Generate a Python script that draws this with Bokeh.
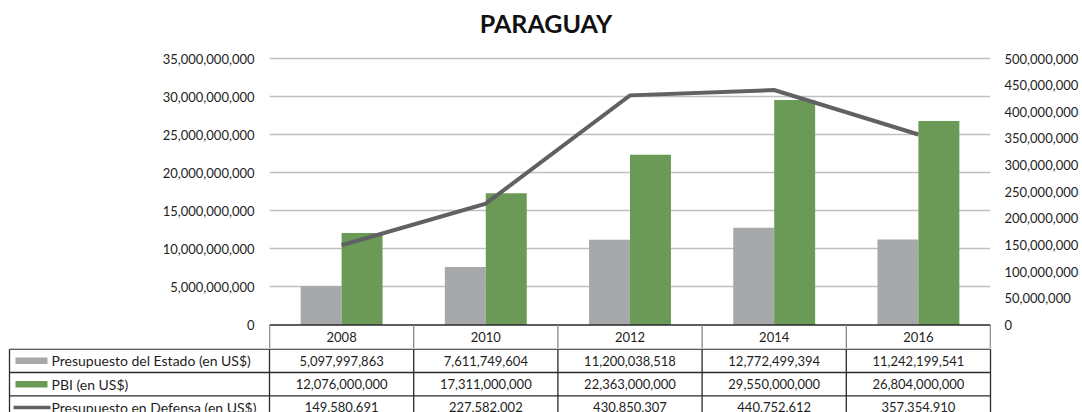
from bokeh.plotting import figure
from bokeh.models import (ColumnDataSource, Range1d, LinearAxis,
                          FixedTicker, NumeralTickFormatter)
from bokeh.layouts import column
from bokeh.embed import file_html
from bokeh.resources import INLINE
from bokeh.core.properties import value

# ---------------- data ----------------
title = "PARAGUAY"
years = ["2008", "2010", "2012", "2014", "2016"]
presupuesto_estado = [5097997863, 7611749604, 11200038518, 12772499394, 11242199541]
pbi = [12076000000, 17311000000, 22363000000, 29550000000, 26804000000]
presupuesto_defensa = [149580691, 227582002, 430850307, 440752612, 357354910]
series_names = ["Presupuesto del Estado (en US$)", " PBI (en US$)",
                "Presupuesto en Defensa (en US$)"]
left_ticks = [0, 5e9, 10e9, 15e9, 20e9, 25e9, 30e9, 35e9]
right_ticks = [0, 50e6, 100e6, 150e6, 200e6, 250e6, 300e6, 350e6, 400e6, 450e6, 500e6]

GREY = "#A6A8A9"
GREEN = "#6A9A55"
LINE = "#606163"
FONT = "Lato"
TXT = "#1e1e1e"
BORDER = "#2a2a2a"

W = 1082
n = len(years)
xc = [i + 0.5 for i in range(n)]
bw = 0.284
src = ColumnDataSource(dict(x=xc, xg=[c - bw / 2 for c in xc],
                            xp=[c + bw / 2 for c in xc], year=years,
                            estado=presupuesto_estado, pbi=pbi,
                            defensa=presupuesto_defensa))

# ---------------- chart (title + plot + header row of the table) ----------------
plot_left, plot_right = 269, 990
col_px = (plot_right - plot_left) / n
top_px, zero_px, bot_px = 58, 324.5, 348
left_max, right_max = 35e9, 500e6
lpp = left_max / (zero_px - top_px)      # left units per pixel
rpp = right_max / (zero_px - top_px)     # right units per pixel
p = figure(width=W, height=bot_px, x_range=Range1d(0, n),
           y_range=Range1d(-(bot_px - zero_px) * lpp, left_max + top_px * lpp),
           output_backend="svg", toolbar_location=None,
           min_border_left=plot_left, min_border_right=W - plot_right,
           min_border_top=0, min_border_bottom=0, frame_align=False)
p.extra_y_ranges = {"def": Range1d(-(bot_px - zero_px) * rpp,
                                   right_max + top_px * rpp)}
p.outline_line_color = None

p.vbar(x="xg", top="estado", width=bw, source=src, color=GREY, line_color=None)
p.vbar(x="xp", top="pbi", width=bw, source=src, color=GREEN, line_color=None)
p.line(x="x", y="defensa", source=src, y_range_name="def",
       line_width=4, line_color=LINE, line_join="miter")

p.xaxis.visible = False
p.xgrid.grid_line_color = None
p.ygrid.grid_line_color = "#C0C0C0"
p.ygrid.grid_line_width = 1.6
p.ygrid.ticker = FixedTicker(ticks=left_ticks[1:])

la = p.yaxis[0]
la.ticker = FixedTicker(ticks=left_ticks)
la.formatter = NumeralTickFormatter(format="0,0")
ra = LinearAxis(y_range_name="def", ticker=FixedTicker(ticks=right_ticks),
                formatter=NumeralTickFormatter(format="0,0"))
p.add_layout(ra, "right")
for ax in (la, ra):
    ax.axis_line_color = None
    ax.major_tick_line_color = None
    ax.minor_tick_line_color = None
    ax.major_tick_out = 0
    ax.major_label_text_font = FONT
    ax.major_label_text_font_size = "13px"
    ax.major_label_text_color = TXT
la.major_label_standoff = 15
ra.major_label_standoff = 14

# title (centred over the page, cap centre ~23px from the top)
p.text(x=[(545.5 - plot_left) / col_px], y=[left_max + (top_px - 22) * lpp],
       text=[title], text_align="center", text_baseline="middle",
       text_font=value(FONT), text_font_size="25px", text_font_style="bold",
       text_color="#111111")

# header row: border + years
hy = -(bot_px - zero_px) * lpp
p.segment(x0=[0], y0=[0], x1=[n], y1=[0], line_color=BORDER, line_width=1.5)
p.segment(x0=[0, n], y0=[0, 0], x1=[0, n], y1=[hy, hy],
          line_color=BORDER, line_width=1.3)
inner = list(range(1, n))
p.segment(x0=inner, y0=[0] * len(inner), x1=inner, y1=[hy] * len(inner),
          line_color="#8a8a8a", line_width=1.3)
p.text(x=xc, y=[hy / 2] * n, text=years, text_align="center",
       text_baseline="middle", text_font=value(FONT), text_font_size="13px",
       text_color=TXT)

# ---------------- data table rows ----------------
x0 = -plot_left / col_px
x1 = (W - plot_left) / col_px
row_px = 23.3
th = 412 - bot_px
tb = figure(width=W, height=th, x_range=Range1d(x0, x1),
            y_range=Range1d(-th / row_px + 0.03, 0.03),
            output_backend="svg", toolbar_location=None,
            min_border=0, frame_align=False)
tb.axis.visible = False
tb.grid.grid_line_color = None
tb.outline_line_color = None

label_left = (9 - plot_left) / col_px
tb.segment(x0=[label_left] * 3, y0=[0, -1, -2], x1=[n] * 3, y1=[0, -1, -2],
           line_color=BORDER, line_width=1.3)
vx = [label_left] + list(range(0, n + 1))
tb.segment(x0=vx, y0=[0] * len(vx), x1=vx, y1=[-3] * len(vx),
           line_color=BORDER, line_width=1.3)

for r, vals in enumerate([presupuesto_estado, pbi, presupuesto_defensa]):
    tb.text(x=xc, y=[-0.5 - r] * n, text=[f"{v:,}" for v in vals],
            text_align="center", text_baseline="middle", text_font=value(FONT),
            text_font_size="13px", text_color=TXT)

# legend keys
kx0 = (15 - plot_left) / col_px
kx1 = (47 - plot_left) / col_px
tb.quad(left=[kx0] * 2, right=[kx1] * 2, top=[-0.5 + 0.14, -1.5 + 0.14],
        bottom=[-0.5 - 0.14, -1.5 - 0.14], color=[GREY, GREEN], line_color=None)
tb.segment(x0=[(13 - plot_left) / col_px], y0=[-2.5],
           x1=[(50 - plot_left) / col_px], y1=[-2.5],
           line_color=LINE, line_width=3.5)
lx = (51 - plot_left) / col_px
tb.text(x=[lx] * 3, y=[-0.5, -1.5, -2.5], text=series_names, text_align="left",
        text_baseline="middle", text_font=value(FONT), text_font_size="14px",
        text_color=TXT)

layout = column(p, tb, spacing=0)
open("out.html", "w").write(file_html(layout, INLINE))
